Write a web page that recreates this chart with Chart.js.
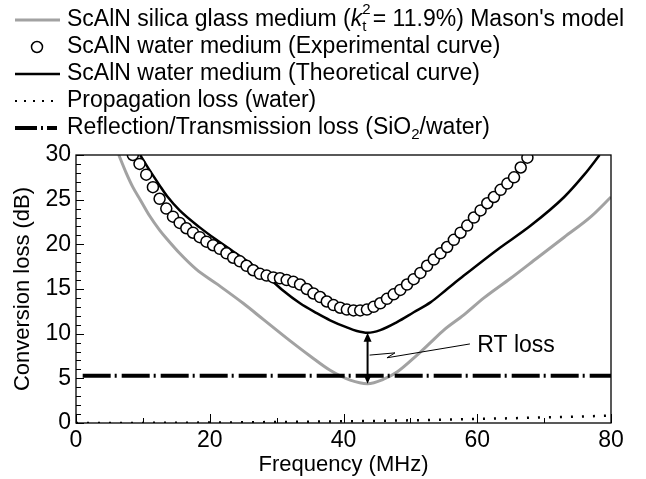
<!DOCTYPE html>
<html>
<head>
<meta charset="utf-8">
<script src="https://cdn.jsdelivr.net/npm/chart.js@4/dist/chart.umd.min.js"></script>
<style>
  body { margin: 0; background: #fff; }
  #wrap { width: 646px; height: 479px; }
</style>
</head>
<body>
<div id="wrap"><canvas id="lossChart" width="646" height="479"></canvas></div>
<script>
// ScAlN silica glass medium, Mason's model
var glassFreq = [6.4, 7.5, 8.5, 9.6, 11, 12.5, 13.6, 15.5, 18, 21, 25, 28, 31.5, 35, 38, 41, 43.6, 46, 48, 51, 53, 55, 58, 61, 65, 69, 73, 77, 80];
var glassLoss = [30, 28, 26.4, 25, 23.2, 21.6, 20.6, 19.0, 17.2, 15.6, 13.4, 11.6, 9.5, 7.5, 5.9, 4.8, 4.4, 4.9, 5.7, 7.6, 9.0, 10.4, 12.1, 14.0, 16.2, 18.5, 20.8, 23.1, 25.3];

// ScAlN water medium, experimental points
var expFreq = [8.5, 9.5, 10.5, 11.5, 12.5, 13.5, 14.5, 15.5, 16.5, 17.5, 18.5, 19.5, 20.5, 21.5, 22.5, 23.5, 24.5, 25.5, 26.5, 27.5,
               28.5, 29.5, 30.5, 31.5, 32.5, 33.5, 34.5, 35.5, 36.5, 37.5, 38.5, 39.5, 40.5, 41.5, 42.5, 43.5, 44.5, 45.5, 46.5, 47.5,
               48.5, 49.5, 50.5, 51.5, 52.5, 53.5, 54.5, 55.5, 56.5, 57.5, 58.5, 59.5, 60.5, 61.5, 62.5, 63.5, 64.5, 65.5, 66.5, 67.5];
var expLoss = [30.0, 29.0, 27.8, 26.4, 25.1, 24.0, 23.1, 22.4, 21.8, 21.3, 20.8, 20.3, 19.9, 19.5, 19.0, 18.5, 18.1, 17.6, 17.1, 16.7,
               16.5, 16.3, 16.2, 16.0, 15.8, 15.5, 15.0, 14.5, 14.1, 13.6, 13.2, 12.9, 12.7, 12.6, 12.6, 12.7, 13.0, 13.4, 13.9, 14.4,
               14.9, 15.5, 16.1, 16.8, 17.6, 18.3, 19.0, 19.7, 20.5, 21.3, 22.1, 23.0, 23.8, 24.6, 25.3, 26.1, 26.8, 27.5, 28.6, 29.7];

// ScAlN water medium, theoretical curve
var theoryFreq = [9.6, 11, 12.5, 13.6, 15.5, 18.5, 21, 23.5, 26, 28, 31, 33.5, 36, 38, 40.5, 42, 43.6, 45.5, 48, 50.5, 53, 55.5, 58, 63, 68, 73, 76, 78.3];
var theoryLoss = [30, 28.3, 26.6, 25.4, 23.8, 21.9, 20.5, 19.2, 17.9, 16.8, 14.8, 13.4, 12.3, 11.5, 10.7, 10.3, 10.1, 10.4, 11.3, 12.4, 13.5, 15.0, 16.5, 19.4, 22.1, 25.3, 27.8, 30];

// propagation loss in water
var propFreq = [0, 10, 20, 30, 40, 50, 60, 70, 80];
var propLoss = [0, 0.01, 0.05, 0.11, 0.19, 0.3, 0.45, 0.62, 0.82];

// reflection/transmission loss at the SiO2/water boundary
var reflFreq = [1, 80];
var reflLoss = [5.3, 5.3];

// RT loss marker: arrow between the two minima, leader to the label
var rtArrowFreq = 43.6;
var rtArrowLoss = [10.1, 4.4];
var rtLeaderFreq = [43.9, 47.7, 46.5, 58.9];
var rtLeaderLoss = [7.6, 7.85, 7.3, 8.85];
var rtLabel = 'RT loss';
var rtLabelAt = [60.0, 8.7];

var xTicks = [0, 20, 40, 60, 80];
var yTicks = [0, 5, 10, 15, 20, 25, 30];

var FONT = "'Liberation Sans', Arial, sans-serif";
var GREY = '#a2a2a2';

function pts(xs, ys) {
    return xs.map(function (x, i) { return { x: x, y: ys[i] }; });
}

// frame, inward ticks, RT arrow and the legend block above the plot
var decorations = {
    id: 'decorations',
    afterDraw: function (chart) {
        var ctx = chart.ctx, a = chart.chartArea;
        var sx = chart.scales.x, sy = chart.scales.y;
        ctx.save();

        ctx.strokeStyle = '#000';
        ctx.lineWidth = 1.3;
        ctx.strokeRect(a.left, a.top, a.right - a.left, a.bottom - a.top);

        ctx.lineWidth = 1;
        ctx.beginPath();
        for (var f = 0; f <= 80; f += 10) {
            var px = Math.round(sx.getPixelForValue(f)) + 0.5;
            var len = (f % 20 === 0) ? 9 : 5;
            ctx.moveTo(px, a.bottom);
            ctx.lineTo(px, a.bottom - len);
        }
        for (var d = 0; d <= 30; d += 1) {
            var py = Math.round(sy.getPixelForValue(d)) + 0.5;
            var l2 = (d % 5 === 0) ? 8 : 5;
            ctx.moveTo(a.left, py);
            ctx.lineTo(a.left + l2, py);
        }
        ctx.stroke();

        // double-headed arrow
        var ax = sx.getPixelForValue(rtArrowFreq);
        var ay1 = sy.getPixelForValue(rtArrowLoss[0]);
        var ay2 = sy.getPixelForValue(rtArrowLoss[1]);
        ctx.lineWidth = 2;
        ctx.beginPath();
        ctx.moveTo(ax, ay1 + 6);
        ctx.lineTo(ax, ay2 - 6);
        ctx.stroke();
        ctx.fillStyle = '#000';
        ctx.beginPath();
        ctx.moveTo(ax, ay1); ctx.lineTo(ax - 4, ay1 + 9); ctx.lineTo(ax + 4, ay1 + 9); ctx.closePath();
        ctx.moveTo(ax, ay2); ctx.lineTo(ax - 4, ay2 - 9); ctx.lineTo(ax + 4, ay2 - 9); ctx.closePath();
        ctx.fill();

        ctx.lineWidth = 1;
        ctx.beginPath();
        rtLeaderFreq.forEach(function (f, i) {
            var x = sx.getPixelForValue(f), y = sy.getPixelForValue(rtLeaderLoss[i]);
            if (i === 0) ctx.moveTo(x, y); else ctx.lineTo(x, y);
        });
        ctx.stroke();

        ctx.font = '23px ' + FONT;
        ctx.textBaseline = 'middle';
        ctx.textAlign = 'left';
        ctx.fillText(rtLabel, sx.getPixelForValue(rtLabelAt[0]), sy.getPixelForValue(rtLabelAt[1]));

        drawLegend(ctx);
        ctx.restore();
    }
};

function drawRuns(ctx, runs, x, y) {
    runs.forEach(function (r) {
        var size = r.size || 23;
        ctx.font = (r.italic ? 'italic ' : '') + size + 'px ' + FONT;
        ctx.fillText(r.t, x, y + (r.dy || 0));
        if (!r.stack) x += ctx.measureText(r.t).width;
    });
}

function drawLegend(ctx) {
    var x0 = 15, x1 = 60, tx = 67;
    var rows = [20, 47, 74, 101, 128];
    ctx.textBaseline = 'middle';
    ctx.textAlign = 'left';
    ctx.fillStyle = '#000';

    // grey model line
    ctx.strokeStyle = GREY; ctx.lineWidth = 3;
    ctx.beginPath(); ctx.moveTo(x0, rows[0]); ctx.lineTo(x1, rows[0]); ctx.stroke();
    drawRuns(ctx, [
        { t: 'ScAlN silica glass medium (' },
        { t: 'k', italic: true },
        { t: '2', size: 15, dy: -10, stack: true },
        { t: 't', size: 15, dy: 7 },
        { t: ' = 11.9%) Mason\'s model' }
    ], tx, rows[0]);

    // open circle
    ctx.strokeStyle = '#000'; ctx.lineWidth = 1.5;
    ctx.beginPath(); ctx.arc(37, rows[1], 5.5, 0, Math.PI * 2); ctx.stroke();
    drawRuns(ctx, [{ t: 'ScAlN water medium (Experimental curve)' }], tx, rows[1]);

    ctx.lineWidth = 2.5;
    ctx.beginPath(); ctx.moveTo(x0, rows[2]); ctx.lineTo(x1, rows[2]); ctx.stroke();
    drawRuns(ctx, [{ t: 'ScAlN water medium (Theoretical curve)' }], tx, rows[2]);

    ctx.lineWidth = 2;
    ctx.setLineDash([2, 7]);
    ctx.beginPath(); ctx.moveTo(x0, rows[3]); ctx.lineTo(x1, rows[3]); ctx.stroke();
    ctx.setLineDash([]);
    drawRuns(ctx, [{ t: 'Propagation loss (water)' }], tx, rows[3]);

    ctx.lineWidth = 4;
    ctx.setLineDash([22, 4, 2, 4, 10, 40]);
    ctx.beginPath(); ctx.moveTo(x0, rows[4]); ctx.lineTo(x1, rows[4]); ctx.stroke();
    ctx.setLineDash([]);
    drawRuns(ctx, [
        { t: 'Reflection/Transmission loss (SiO' },
        { t: '2', size: 15, dy: 7 },
        { t: '/water)' }
    ], tx, rows[4]);
}

var chart = new Chart(document.getElementById('lossChart'), {
    type: 'scatter',
    data: {
        datasets: [
            {
                label: 'ScAlN water medium (Experimental curve)',
                data: pts(expFreq, expLoss),
                showLine: false,
                pointRadius: 5.5,
                pointBackgroundColor: '#fff',
                pointBorderColor: '#000',
                pointBorderWidth: 1.5,
                order: 0
            },
            {
                label: 'ScAlN water medium (Theoretical curve)',
                data: pts(theoryFreq, theoryLoss),
                showLine: true,
                borderColor: '#000',
                borderWidth: 2.5,
                pointRadius: 0,
                cubicInterpolationMode: 'monotone',
                order: 1
            },
            {
                label: 'Reflection/Transmission loss (SiO2/water)',
                data: pts(reflFreq, reflLoss),
                showLine: true,
                borderColor: '#000',
                borderWidth: 4,
                borderDash: [28, 4, 2, 5],
                pointRadius: 0,
                order: 2
            },
            {
                label: 'ScAlN silica glass medium (Mason\'s model)',
                data: pts(glassFreq, glassLoss),
                showLine: true,
                borderColor: GREY,
                borderWidth: 3,
                pointRadius: 0,
                cubicInterpolationMode: 'monotone',
                order: 3
            },
            {
                label: 'Propagation loss (water)',
                data: pts(propFreq, propLoss),
                showLine: true,
                borderColor: '#000',
                borderWidth: 2.5,
                borderDash: [2, 9],
                pointRadius: 0,
                cubicInterpolationMode: 'monotone',
                order: 4
            }
        ]
    },
    options: {
        responsive: false,
        animation: false,
        events: [],
        layout: { padding: { top: 155, right: 35, left: 0, bottom: 0 } },
        plugins: {
            legend: { display: false },
            tooltip: { enabled: false }
        },
        scales: {
            x: {
                type: 'linear',
                min: 0, max: 80,
                afterBuildTicks: function (s) { s.ticks = xTicks.map(function (v) { return { value: v }; }); },
                afterFit: function (s) { s.height = 56; },
                grid: { display: false, drawTicks: false },
                border: { display: false },
                ticks: { color: '#000', padding: 4, maxRotation: 0, font: { size: 23, family: FONT } },
                title: { display: true, text: 'Frequency (MHz)', color: '#000', font: { size: 22, family: FONT }, padding: { top: 0, bottom: 1 } }
            },
            y: {
                type: 'linear',
                min: 0, max: 30,
                afterBuildTicks: function (s) { s.ticks = yTicks.map(function (v) { return { value: v }; }); },
                afterFit: function (s) { s.width = 76; },
                grid: { display: false, drawTicks: false },
                border: { display: false },
                ticks: { color: '#000', padding: 5, font: { size: 23, family: FONT } },
                title: { display: true, text: 'Conversion loss (dB)', color: '#000', font: { size: 22, family: FONT }, padding: { top: 10, bottom: 0 } }
            }
        }
    },
    plugins: [decorations]
});
</script>
</body>
</html>
